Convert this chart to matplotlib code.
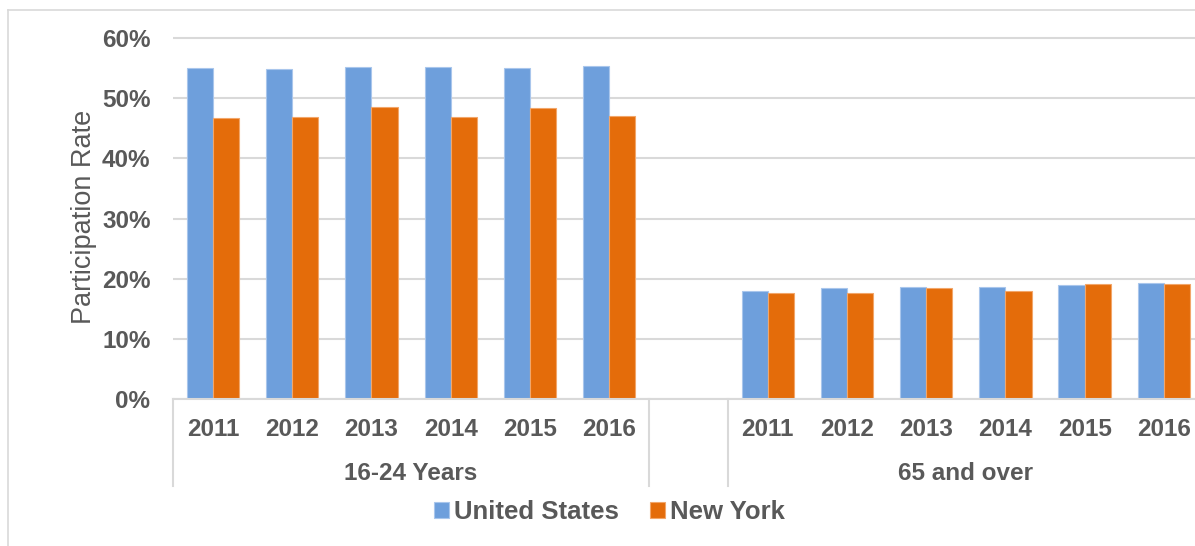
import matplotlib.pyplot as plt
from matplotlib.lines import Line2D
import numpy as np

# dados
years = ["2011", "2012", "2013", "2014", "2015", "2016"]
groups = ["16-24 Years", "65 and over"]
us_young = [0.550, 0.549, 0.551, 0.551, 0.550, 0.553]
ny_young = [0.467, 0.468, 0.486, 0.468, 0.483, 0.470]
us_old = [0.179, 0.184, 0.187, 0.186, 0.189, 0.192]
ny_old = [0.176, 0.176, 0.184, 0.180, 0.191, 0.191]
yticks = [0, 0.1, 0.2, 0.3, 0.4, 0.5, 0.6]

BLUE = "#6E9FDC"
ORANGE = "#E46C0A"
GRAY = "#595959"
LIGHT = "#D9D9D9"

plt.rcParams["font.family"] = ["Liberation Sans", "DejaVu Sans"]

fig = plt.figure(figsize=(11.95, 5.46), dpi=100)
ax = fig.add_axes([0.1451, 0.2692, 0.862, 0.6667])

# posições: 6 anos, uma categoria vazia, mais 6 anos
x = np.concatenate([np.arange(6), np.arange(7, 13)])
us = us_young + us_old
ny = ny_young + ny_old
w = 0.33

ax.bar(x - w / 2, us, width=w, color=BLUE, edgecolor="#A9C6EC", linewidth=0.8, label="United States", zorder=2)
ax.bar(x + w / 2, ny, width=w, color=ORANGE, edgecolor="#F2A66A", linewidth=0.8, label="New York", zorder=2)

ax.set_xlim(-0.5, 12.5)
ax.set_ylim(0, 0.605)
ax.set_yticks(yticks)
ax.set_yticklabels([f"{int(round(t * 100))}%" for t in yticks])
ax.set_xticks(x)
ax.set_xticklabels(years * 2)

ax.tick_params(axis="both", length=0, labelsize=17.5, labelcolor=GRAY)
ax.tick_params(axis="y", pad=16.5)
ax.tick_params(axis="x", pad=14)
for lbl in ax.get_xticklabels() + ax.get_yticklabels():
    lbl.set_fontweight("bold")

ax.grid(axis="y", color=LIGHT, linewidth=1.5)
ax.set_axisbelow(True)
for side in ["top", "right", "left"]:
    ax.spines[side].set_visible(False)
ax.spines["bottom"].set_color(LIGHT)
ax.spines["bottom"].set_linewidth(1.5)

ax.set_ylabel("Participation Rate", fontsize=19.5, color=GRAY)
ax.yaxis.set_label_coords(-0.0742, 0.5)

# nomes dos grupos e linhas separadoras abaixo do eixo
for i, g in enumerate(groups):
    ax.annotate(g, xy=(2.5 + 7 * i, 0), xycoords=("data", "axes fraction"),
                xytext=(0, -58.3), textcoords="offset points",
                ha="center", va="baseline", fontsize=17.5, fontweight="bold", color=GRAY)

sep_bottom = -87 / (0.6667 * 546)
for xs in [-0.5, 5.5, 6.5, 12.5]:
    ax.add_line(Line2D([xs, xs], [0, sep_bottom], transform=ax.get_xaxis_transform(),
                       color=LIGHT, linewidth=1.5, clip_on=False))

ax.legend(loc="center", bbox_to_anchor=(0.51, 0.0623), bbox_transform=fig.transFigure,
          ncol=2, frameon=False, handlelength=0.6, handleheight=0.6,
          handletextpad=0.2, columnspacing=1.2,
          prop={"size": 18.5, "weight": "bold"}, labelcolor=GRAY)

# moldura da área do gráfico (só esquerda e topo aparecem)
fig.add_artist(Line2D([7.5 / 1195, 7.5 / 1195], [0, 1 - 10 / 546], color=LIGHT, linewidth=1.2))
fig.add_artist(Line2D([7.5 / 1195, 1], [1 - 10 / 546, 1 - 10 / 546], color=LIGHT, linewidth=1.2))

fig.savefig("out.png", dpi=100)
